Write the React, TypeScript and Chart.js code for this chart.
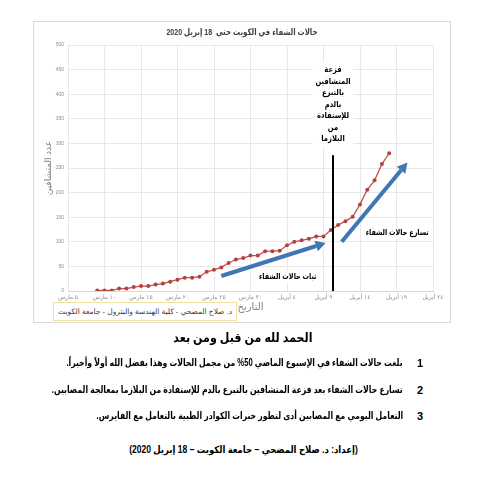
import React, { useEffect, useRef } from "react";
import { Chart, registerables } from "chart.js";

Chart.register(...registerables);

// ---- data ----
const chartTitle = "حالات الشفاء في الكويت حتى  18 إبريل 2020";
const axisStartDate = "2020-03-05";
const recoveryDates = [
  "2020-03-09", "2020-03-10", "2020-03-11", "2020-03-12", "2020-03-13", "2020-03-14",
  "2020-03-15", "2020-03-16", "2020-03-17", "2020-03-18", "2020-03-19", "2020-03-20",
  "2020-03-21", "2020-03-22", "2020-03-23", "2020-03-24", "2020-03-25", "2020-03-26",
  "2020-03-27", "2020-03-28", "2020-03-29", "2020-03-30", "2020-03-31",
  "2020-04-01", "2020-04-02", "2020-04-03", "2020-04-04", "2020-04-05", "2020-04-06",
  "2020-04-07", "2020-04-08", "2020-04-09", "2020-04-10", "2020-04-11", "2020-04-12",
  "2020-04-13", "2020-04-14", "2020-04-15", "2020-04-16", "2020-04-17", "2020-04-18",
];
const recoveredCases = [
  1, 1, 1, 5, 5, 8, 10, 10, 13, 15, 19, 23, 27, 27, 29, 39, 43, 48, 57, 64, 67,
  72, 72, 81, 81, 82, 93, 100, 103, 106, 111, 111, 124, 134, 142, 151, 176, 206,
  225, 258, 280,
];
const xTickLabels = [
  "٥ مارس", "١٠ مارس", "١٥ مارس", "٢٠ مارس", "٢٥ مارس", "٣٠ مارس",
  "٤ أبريل", "٩ أبريل", "١٤ أبريل", "١٩ أبريل", "٢٤ أبريل",
];
const xAxisTitle = "التاريخ";
const yAxisTitle = "عدد المتشافين";
const plasmaNoteLines = ["فزعة", "المتشافين", "بالتبرع", "بالدم", "للإستفادة", "من", "البلازما"];
const steadyLabel = "ثبات حالات الشفاء";
const accelLabel = "تسارع حالات الشفاء";
const creditBox = "د. صلاح المضحي - كلية الهندسة والبترول - جامعة الكويت";
const heading = "الحمد لله من قبل ومن بعد";
const notes = [
  "بلغت حالات الشفاء في الإسبوع الماضي 50% من مجمل الحالات وهذا بفضل الله أولاً وأخيراً.",
  "تسارع حالات الشفاء بعد فزعة المتشافين بالتبرع بالدم للإستفادة من البلازما بمعالجة المصابين.",
  "التعامل اليومي مع المصابين أدى لتطور خبرات الكوادر الطبية بالتعامل مع الفايرس.",
];
const footerLine = "(إعداد: د. صلاح المضحي – جامعة الكويت – 18 إبريل 2020)";

// annotation anchors in axis units (x: days since axis start, y: cases)
const plasmaLine = { x: 36.3, yTop: 276 };
const plasmaNoteAnchor = { x: 36.3, y: 449 };
const steadyArrow = { x1: 21, y1: 30.5, x2: 35.3, y2: 97.6 };
const accelArrow = { x1: 37.5, y1: 100, x2: 46.5, y2: 261 };
const steadyLabelPos = { x: 30.1, y: 28.5 };
const accelLabelPos = { x: 45.1, y: 118 };

const DAY = 86400000;
const dayOffset = (d: string) => Math.round((Date.parse(d) - Date.parse(axisStartDate)) / DAY);

const FONT = '"Liberation Sans", "DejaVu Sans", Arial, sans-serif';

function drawArrow(ctx: CanvasRenderingContext2D, x1: number, y1: number, x2: number, y2: number) {
  const ang = Math.atan2(y2 - y1, x2 - x1);
  const head = 10;
  const hw = 5.5;
  const hx = x2 - head * Math.cos(ang);
  const hy = y2 - head * Math.sin(ang);
  ctx.save();
  ctx.strokeStyle = "#4176B4";
  ctx.fillStyle = "#4176B4";
  ctx.lineWidth = 4;
  ctx.lineCap = "butt";
  ctx.beginPath();
  ctx.moveTo(x1, y1);
  ctx.lineTo(hx, hy);
  ctx.stroke();
  ctx.beginPath();
  ctx.moveTo(x2, y2);
  ctx.lineTo(hx + hw * Math.sin(ang), hy - hw * Math.cos(ang));
  ctx.lineTo(hx - hw * Math.sin(ang), hy + hw * Math.cos(ang));
  ctx.closePath();
  ctx.fill();
  ctx.restore();
}

// draw text horizontally condensed (Arabic fallback font is wider than the original)
function squeezedText(ctx: CanvasRenderingContext2D, text: string, x: number, y: number, sx: number, bg: boolean, color = "#000000") {
  const w = ctx.measureText(text).width * sx;
  if (bg) {
    ctx.fillStyle = "#ffffff";
    ctx.fillRect(x - w / 2 - 2, y - 6, w + 4, 12);
  }
  ctx.save();
  ctx.translate(x, y);
  ctx.scale(sx, 1);
  ctx.fillStyle = color;
  ctx.fillText(text, 0, 0);
  ctx.restore();
}

const annotationPlugin = {
  id: "annotations",
  afterDraw(chart: any) {
    const { ctx, scales, width } = chart;
    const xs = scales.x;
    const ys = scales.y;
    const X = (v: number) => xs.getPixelForValue(v);
    const Y = (v: number) => ys.getPixelForValue(v);
    ctx.save();
    ctx.textAlign = "center";
    ctx.textBaseline = "middle";

    // chart title
    ctx.font = `bold 9px ${FONT}`;
    squeezedText(ctx, chartTitle, width / 2, 11, 0.78, false, "#404040");

    drawArrow(ctx, X(steadyArrow.x1), Y(steadyArrow.y1), X(steadyArrow.x2), Y(steadyArrow.y2));
    drawArrow(ctx, X(accelArrow.x1), Y(accelArrow.y1), X(accelArrow.x2), Y(accelArrow.y2));

    // plasma vertical line
    ctx.strokeStyle = "#000000";
    ctx.lineWidth = 2;
    ctx.beginPath();
    ctx.moveTo(X(plasmaLine.x), Y(plasmaLine.yTop));
    ctx.lineTo(X(plasmaLine.x), Y(0));
    ctx.stroke();

    // stacked note
    ctx.font = `bold 8.5px ${FONT}`;
    const nx = X(plasmaNoteAnchor.x);
    const ny = Y(plasmaNoteAnchor.y);
    let maxW = 0;
    plasmaNoteLines.forEach((t) => (maxW = Math.max(maxW, ctx.measureText(t).width * 0.8)));
    ctx.fillStyle = "#ffffff";
    ctx.fillRect(nx - maxW / 2 - 3, ny - 8, maxW + 6, 11.5 * (plasmaNoteLines.length - 1) + 16);
    plasmaNoteLines.forEach((t, i) => squeezedText(ctx, t, nx, ny + i * 11.5, 0.8, false));

    ctx.font = `bold 8.5px ${FONT}`;
    squeezedText(ctx, steadyLabel, X(steadyLabelPos.x), Y(steadyLabelPos.y), 0.76, true);
    squeezedText(ctx, accelLabel, X(accelLabelPos.x), Y(accelLabelPos.y), 0.76, true);
    ctx.restore();
  },
};

function RecoveryChart() {
  const ref = useRef<HTMLCanvasElement | null>(null);
  useEffect(() => {
    if (!ref.current) return;
    const points = recoveryDates.map((d, i) => ({ x: dayOffset(d), y: recoveredCases[i] }));
    const chart = new Chart(ref.current, {
      type: "line",
      data: {
        datasets: [
          {
            data: points,
            borderColor: "#C0504D",
            backgroundColor: "#C0504D",
            borderWidth: 1.3,
            pointRadius: 2,
            pointBorderWidth: 0,
            pointBackgroundColor: "#B5403D",
            tension: 0,
          },
        ],
      },
      options: {
        animation: false,
        responsive: false,
        maintainAspectRatio: false,
        layout: { padding: { left: 0, right: 17, top: 23, bottom: 0 } },
        plugins: {
          legend: { display: false },
          tooltip: { enabled: false },
          title: { display: false },
        },
        scales: {
          x: {
            type: "linear",
            min: 0,
            max: 50,
            ticks: {
              stepSize: 5,
              autoSkip: false,
              maxRotation: 0,
              color: "#8c8c8c",
              font: { size: 6, family: FONT },
              padding: 3,
              callback: (v: any) => xTickLabels[Math.round(Number(v) / 5)] ?? "",
            },
            grid: { color: "#e8e8e8", drawTicks: false },
            border: { color: "#d9d9d9" },
            title: {
              display: true,
              text: xAxisTitle,
              color: "#7f7f7f",
              font: { size: 10, family: FONT },
              padding: { top: 0, bottom: 9 },
            },
            afterFit: (s: any) => {
              s.height = 31;
            },
          },
          y: {
            min: 0,
            max: 500,
            ticks: {
              stepSize: 50,
              color: "#8c8c8c",
              font: { size: 5, family: FONT },
              padding: 4,
            },
            grid: { color: "#e8e8e8", drawTicks: false },
            border: { display: false },
            title: {
              display: true,
              text: yAxisTitle,
              color: "#7f7f7f",
              font: { size: 9, family: FONT },
              padding: { top: 9, bottom: 0 },
            },
            afterFit: (s: any) => {
              s.width = 34;
            },
          },
        },
      },
      plugins: [annotationPlugin],
    });
    return () => chart.destroy();
  }, []);
  return <canvas ref={ref} width={416} height={300} style={{ display: "block" }} />;
}

function Squeeze({ sx, origin, children }: { sx: number; origin: string; children: React.ReactNode }) {
  return (
    <span style={{ display: "inline-block", transform: `scaleX(${sx})`, transformOrigin: origin, whiteSpace: "nowrap" }}>
      {children}
    </span>
  );
}

export default function App() {
  const abs = (o: React.CSSProperties): React.CSSProperties => ({ position: "absolute", ...o });
  const noteTops = [355, 382, 408];
  return (
    <div style={abs({ left: 0, top: 0, width: 486, height: 500, background: "#fff", fontFamily: FONT, overflow: "hidden" })}>
      <div style={abs({ left: 33, top: 21, width: 416, height: 300, border: "1px solid #d9d9d9" })}>
        <RecoveryChart />
        <div
          dir="rtl"
          style={abs({
            left: 19,
            top: 280,
            width: 182,
            height: 17,
            border: "1px solid #eee4a0",
            background: "#fff",
            fontSize: 7.5,
            lineHeight: "17px",
            textAlign: "center",
            color: "#404040",
            whiteSpace: "nowrap",
          })}
        >
          {creditBox}
        </div>
      </div>
      <div dir="rtl" style={abs({ left: 0, top: 328, width: 486, textAlign: "center", fontSize: 13, fontWeight: "bold", lineHeight: "20px", color: "#000" })}>
        <Squeeze sx={0.85} origin="center">{heading}</Squeeze>
      </div>
      {notes.map((t, i) => (
        <React.Fragment key={i}>
          <div style={abs({ left: 410, top: noteTops[i], width: 20, textAlign: "center", fontSize: 11, fontWeight: "bold", lineHeight: "16px" })}>
            {i + 1}
          </div>
          <div
            dir="rtl"
            style={abs({ right: 83, top: noteTops[i], width: 400, textAlign: "right", fontSize: 10, fontWeight: "bold", lineHeight: "16px", whiteSpace: "nowrap" })}
          >
            <Squeeze sx={0.77} origin="right">{t}</Squeeze>
          </div>
        </React.Fragment>
      ))}
      <div dir="rtl" style={abs({ left: 0, top: 442, width: 486, textAlign: "center", fontSize: 10, fontWeight: "bold", lineHeight: "16px" })}>
        <Squeeze sx={0.85} origin="center">{footerLine}</Squeeze>
      </div>
    </div>
  );
}
